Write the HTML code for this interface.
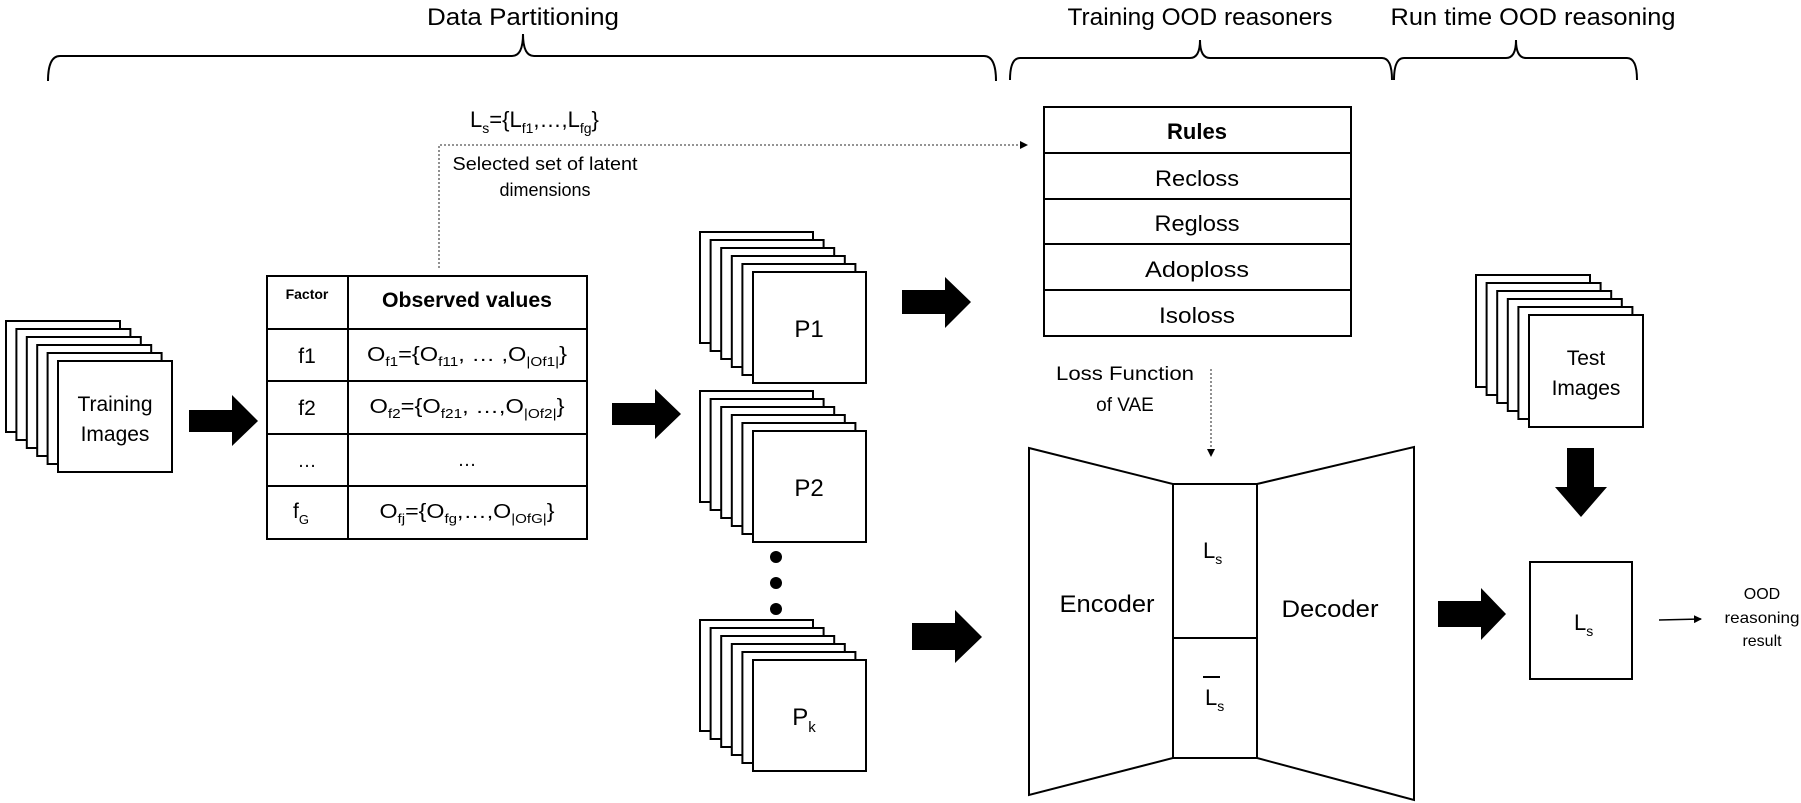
<!DOCTYPE html>
<html><head><meta charset="utf-8"><style>
html,body{margin:0;padding:0;background:#fff}
svg{display:block}
text{font-family:"Liberation Sans",sans-serif;fill:#000}
</style></head><body>
<svg width="1801" height="803" viewBox="0 0 1801 803" xmlns="http://www.w3.org/2000/svg">
<defs>
<marker id="ah" markerWidth="8" markerHeight="8" refX="7" refY="4" orient="auto" markerUnits="userSpaceOnUse"><path d="M0,0 L8,4 L0,8 z" fill="#000"/></marker>
</defs>
<g fill="none" stroke="#000" stroke-width="2">
<path d="M48,81 Q48,56 60,56 L512,56 Q523,56 523,34 Q523,56 534,56 L984,56 Q996,56 996,81"/>
<path d="M1010,80 Q1010,58 1020,58 L1190,58 Q1200,58 1200,40 Q1200,58 1210,58 L1382,58 Q1392,58 1392,80"/>
<path d="M1394,80 Q1394,58 1404,58 L1506,58 Q1516,58 1516,40 Q1516,58 1526,58 L1627,58 Q1637,58 1637,80"/>
</g>
<text x="523" y="25" font-size="24" text-anchor="middle" textLength="192" lengthAdjust="spacingAndGlyphs">Data Partitioning</text>
<text x="1200" y="25" font-size="24" text-anchor="middle" textLength="265" lengthAdjust="spacingAndGlyphs">Training OOD reasoners</text>
<text x="1533" y="25" font-size="24" text-anchor="middle" textLength="285" lengthAdjust="spacingAndGlyphs">Run time OOD reasoning</text>

<text x="470" y="127" font-size="22">L<tspan font-size="14" dy="6">s</tspan><tspan dy="-6">={L</tspan><tspan font-size="14" dy="6">f1</tspan><tspan dy="-6">,…,L</tspan><tspan font-size="14" dy="6">fg</tspan><tspan dy="-6">}</tspan></text>
<text x="545" y="170" font-size="18" text-anchor="middle" textLength="185" lengthAdjust="spacingAndGlyphs">Selected set of latent</text>
<text x="545" y="196" font-size="18" text-anchor="middle">dimensions</text>
<path d="M439,268 L439,145 L1027,145" fill="none" stroke="#555" stroke-width="1.3" stroke-dasharray="2,2" marker-end="url(#ah)"/>

<g fill="#fff" stroke="#000" stroke-width="2">
<rect x="6" y="321" width="114" height="111"/><rect x="16.4" y="329" width="114" height="111"/><rect x="26.8" y="337" width="114" height="111"/><rect x="37.2" y="345" width="114" height="111"/><rect x="47.6" y="353" width="114" height="111"/><rect x="58" y="361" width="114" height="111"/>
</g>
<text x="115" y="411" font-size="21" text-anchor="middle">Training</text>
<text x="115" y="441" font-size="21" text-anchor="middle">Images</text>

<g fill="#000">
<path d="M189,410 L232,410 L232,395 L258,421 L232,446 L232,432 L189,432 z"/>
<path d="M612,403 L655,403 L655,389 L681,414 L655,439 L655,425 L612,425 z"/>
<path d="M902,290 L945,290 L945,277 L971,302 L945,328 L945,314 L902,314 z"/>
<path d="M912,623 L955,623 L955,610 L982,637 L955,663 L955,650 L912,650 z"/>
<path d="M1438,601 L1481,601 L1481,588 L1506,614 L1481,640 L1481,627 L1438,627 z"/>
<path d="M1567,448 L1594,448 L1594,487 L1607,487 L1581,517 L1555,487 L1567,487 z"/>
</g>

<g fill="none" stroke="#000" stroke-width="2">
<rect x="267" y="276" width="320" height="263"/>
<line x1="348" y1="276" x2="348" y2="539"/>
<line x1="267" y1="329" x2="587" y2="329"/>
<line x1="267" y1="381" x2="587" y2="381"/>
<line x1="267" y1="434" x2="587" y2="434"/>
<line x1="267" y1="486" x2="587" y2="486"/>
</g>
<text x="307" y="299" font-size="14" font-weight="bold" text-anchor="middle">Factor</text>
<text x="467" y="307" font-size="21" font-weight="bold" text-anchor="middle" textLength="170" lengthAdjust="spacingAndGlyphs">Observed values</text>
<text x="307" y="363" font-size="21" text-anchor="middle">f1</text>
<text x="307" y="415" font-size="21" text-anchor="middle">f2</text>
<text x="307" y="467" font-size="19" text-anchor="middle">…</text>
<text x="301" y="518" font-size="21" text-anchor="middle">f<tspan font-size="13" dy="6">G</tspan></text>
<text x="467" y="361" font-size="20" text-anchor="middle" textLength="200" lengthAdjust="spacingAndGlyphs">O<tspan font-size="13" dy="5">f1</tspan><tspan dy="-5">={O</tspan><tspan font-size="13" dy="5">f11</tspan><tspan dy="-5">, … ,O</tspan><tspan font-size="13" dy="5">|Of1|</tspan><tspan dy="-5">}</tspan></text>
<text x="467" y="413" font-size="20" text-anchor="middle" textLength="195" lengthAdjust="spacingAndGlyphs">O<tspan font-size="13" dy="5">f2</tspan><tspan dy="-5">={O</tspan><tspan font-size="13" dy="5">f21</tspan><tspan dy="-5">, …,O</tspan><tspan font-size="13" dy="5">|Of2|</tspan><tspan dy="-5">}</tspan></text>
<text x="467" y="466" font-size="19" text-anchor="middle">…</text>
<text x="467" y="518" font-size="20" text-anchor="middle" textLength="175" lengthAdjust="spacingAndGlyphs">O<tspan font-size="13" dy="5">fj</tspan><tspan dy="-5">={O</tspan><tspan font-size="13" dy="5">fg</tspan><tspan dy="-5">,…,O</tspan><tspan font-size="13" dy="5">|OfG|</tspan><tspan dy="-5">}</tspan></text>

<g fill="#fff" stroke="#000" stroke-width="2">
<rect x="700" y="232" width="113" height="111"/><rect x="710.6" y="240" width="113" height="111"/><rect x="721.2" y="248" width="113" height="111"/><rect x="731.8" y="256" width="113" height="111"/><rect x="742.4" y="264" width="113" height="111"/><rect x="753" y="272" width="113" height="111"/>
<rect x="700" y="391" width="113" height="111"/><rect x="710.6" y="399" width="113" height="111"/><rect x="721.2" y="407" width="113" height="111"/><rect x="731.8" y="415" width="113" height="111"/><rect x="742.4" y="423" width="113" height="111"/><rect x="753" y="431" width="113" height="111"/>
<rect x="700" y="620" width="113" height="111"/><rect x="710.6" y="628" width="113" height="111"/><rect x="721.2" y="636" width="113" height="111"/><rect x="731.8" y="644" width="113" height="111"/><rect x="742.4" y="652" width="113" height="111"/><rect x="753" y="660" width="113" height="111"/>
</g>
<g fill="#000"><circle cx="776" cy="557" r="6"/><circle cx="776" cy="583" r="6"/><circle cx="776" cy="609" r="6"/></g>
<text x="809" y="337" font-size="24" text-anchor="middle">P1</text>
<text x="809" y="496" font-size="24" text-anchor="middle">P2</text>
<text x="804" y="725" font-size="24" text-anchor="middle">P<tspan font-size="15" dy="7">k</tspan></text>

<g fill="none" stroke="#000" stroke-width="2">
<rect x="1044" y="107" width="307" height="229"/>
<line x1="1044" y1="153" x2="1351" y2="153"/>
<line x1="1044" y1="199" x2="1351" y2="199"/>
<line x1="1044" y1="244" x2="1351" y2="244"/>
<line x1="1044" y1="290" x2="1351" y2="290"/>
</g>
<text x="1197" y="139" font-size="22" font-weight="bold" text-anchor="middle">Rules</text>
<text x="1197" y="186" font-size="22" text-anchor="middle" textLength="84" lengthAdjust="spacingAndGlyphs">Recloss</text>
<text x="1197" y="231" font-size="22" text-anchor="middle" textLength="85" lengthAdjust="spacingAndGlyphs">Regloss</text>
<text x="1197" y="277" font-size="22" text-anchor="middle" textLength="104" lengthAdjust="spacingAndGlyphs">Adoploss</text>
<text x="1197" y="323" font-size="22" text-anchor="middle" textLength="76" lengthAdjust="spacingAndGlyphs">Isoloss</text>

<text x="1125" y="380" font-size="19" text-anchor="middle" textLength="138" lengthAdjust="spacingAndGlyphs">Loss Function</text>
<text x="1125" y="411" font-size="19" text-anchor="middle">of VAE</text>
<line x1="1211" y1="369" x2="1211" y2="456" stroke="#555" stroke-width="1.3" stroke-dasharray="2,2" marker-end="url(#ah)"/>

<g fill="none" stroke="#000" stroke-width="2">
<path d="M1029,448 L1173,484 L1173,758 L1029,795 z"/>
<rect x="1173" y="484" width="84" height="274"/>
<line x1="1173" y1="638" x2="1257" y2="638"/>
<path d="M1257,484 L1414,447 L1414,800 L1257,758 z"/>
<line x1="1203" y1="677" x2="1220" y2="677"/>
</g>
<text x="1107" y="612" font-size="24" text-anchor="middle" textLength="95" lengthAdjust="spacingAndGlyphs">Encoder</text>
<text x="1330" y="617" font-size="24" text-anchor="middle" textLength="97" lengthAdjust="spacingAndGlyphs">Decoder</text>
<text x="1203" y="558" font-size="22">L<tspan font-size="14" dy="6">s</tspan></text>
<text x="1205" y="705" font-size="22">L<tspan font-size="14" dy="6">s</tspan></text>

<g fill="#fff" stroke="#000" stroke-width="2">
<rect x="1476" y="275" width="114" height="112"/><rect x="1486.6" y="283" width="114" height="112"/><rect x="1497.2" y="291" width="114" height="112"/><rect x="1507.8" y="299" width="114" height="112"/><rect x="1518.4" y="307" width="114" height="112"/><rect x="1529" y="315" width="114" height="112"/>
</g>
<text x="1586" y="365" font-size="21" text-anchor="middle">Test</text>
<text x="1586" y="395" font-size="21" text-anchor="middle">Images</text>

<rect x="1530" y="562" width="102" height="117" fill="none" stroke="#000" stroke-width="2"/>
<text x="1574" y="630" font-size="22">L<tspan font-size="14" dy="6">s</tspan></text>
<line x1="1659" y1="620" x2="1701" y2="619" stroke="#000" stroke-width="1.5" marker-end="url(#ah)"/>
<text x="1762" y="599" font-size="16" text-anchor="middle">OOD</text>
<text x="1762" y="623" font-size="16" text-anchor="middle" textLength="75" lengthAdjust="spacingAndGlyphs">reasoning</text>
<text x="1762" y="646" font-size="16" text-anchor="middle">result</text>
</svg>
</body></html>
